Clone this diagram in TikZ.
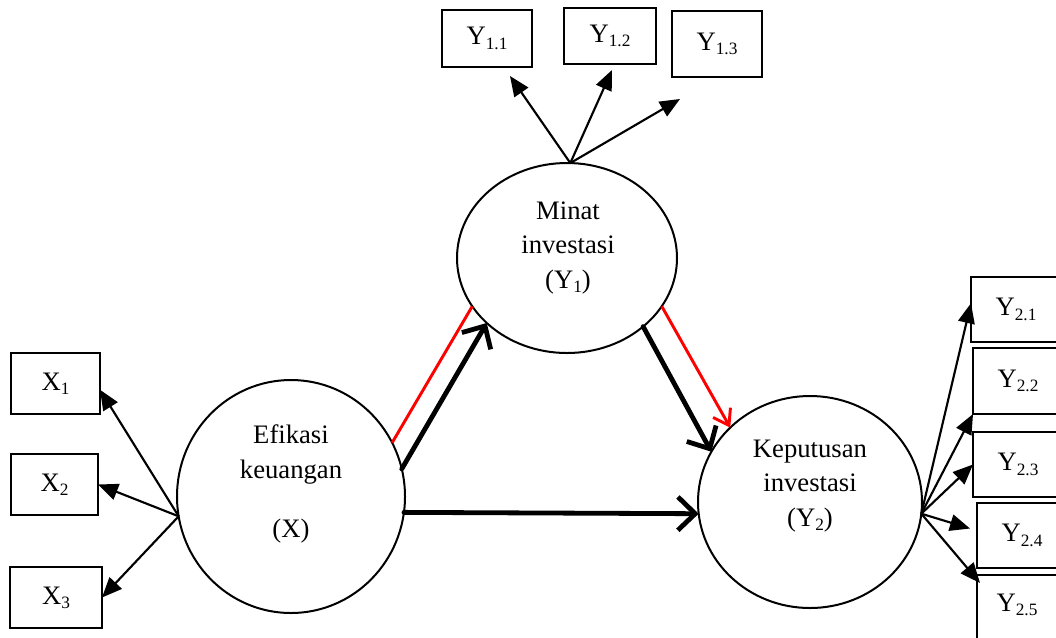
\documentclass[tikz,border=0pt]{standalone}
\usepackage{fontspec}
\setmainfont{Liberation Serif}
\usetikzlibrary{shapes.geometric,arrows.meta}
\newcommand{\lsub}[1]{\raisebox{-0.35ex}{\fontsize{13}{13}\selectfont #1}}
\tikzset{
  latent/.style={draw, ellipse, line width=1.5pt, inner sep=0pt, outer sep=0pt},
  obs/.style={draw, rectangle, line width=1.5pt, inner sep=0pt, outer sep=0pt, font=\fontsize{20}{22}\selectfont},
  txt/.style={align=center, inner sep=0pt, font=\fontsize{20}{26}\selectfont},
  ind/.style={line width=1.6pt, -{Triangle[length=15pt,width=12.5pt]}},
  mainpath/.style={line width=3.6pt, line cap=round, -{Straight Barb[length=13pt,width=25pt]}},
  redpath/.style={draw=red, line width=2.2pt},
}
\begin{document}
\begin{tikzpicture}[x=0.75pt,y=-0.75pt]
\clip (0,0) rectangle (1056,637);
% latent variables
\node[latent, minimum width=171pt, minimum height=174.75pt] (EX) at (291,496.5) {};
\node[latent, minimum width=165pt, minimum height=142.5pt] (EY1) at (567,258) {};
\node[latent, minimum width=168pt, minimum height=159pt] (EY2) at (810,502) {};
\node[txt] (tX) at (291,484) {Efikasi\\keuangan\\[18pt](X)};
\node[txt] (tY1) at (568,248) {Minat\\investasi\\(Y\lsub{1})};
\node[txt] (tY2) at (810,486) {Keputusan\\investasi\\(Y\lsub{2})};
% indicator boxes
\node[obs, minimum width=67.5pt, minimum height=42.75pt] (bY11) at (487,38.5) {Y\lsub{1.1}};
\node[obs, minimum width=69pt, minimum height=42pt] (bY12) at (610,36) {Y\lsub{1.2}};
\node[obs, minimum width=67.5pt, minimum height=49.5pt] (bY13) at (717,44) {Y\lsub{1.3}};
\node[obs, minimum width=66.75pt, minimum height=45.75pt] (bX1) at (55.5,383.5) {X\lsub{1}};
\node[obs, minimum width=65.25pt, minimum height=45.75pt] (bX2) at (54.5,484.5) {X\lsub{2}};
\node[obs, minimum width=69pt, minimum height=45.75pt] (bX3) at (56,597.5) {X\lsub{3}};
\node[obs, minimum width=67.5pt, minimum height=48.75pt] (bY21) at (1016,309.5) {Y\lsub{2.1}};
\node[obs, minimum width=67.5pt, minimum height=49.5pt] (bY22) at (1018,381) {Y\lsub{2.2}};
\node[obs, minimum width=67.5pt, minimum height=48.75pt] (bY23) at (1018,464.5) {Y\lsub{2.3}};
\node[obs, minimum width=67.5pt, minimum height=48.75pt] (bY24) at (1022,535.5) {Y\lsub{2.4}};
\node[obs, minimum width=67.5pt, minimum height=60pt] (bY25) at (1022,615) {};
\node[obs, draw=none] (tY25) at (1017,605) {Y\lsub{2.5}};
% indicator arrows
\draw[ind] (EY1.88) -- ([shift={(23,9)}]bY11.south);
\draw[ind] (EY1.88) -- ([shift={(2,6)}]bY12.south);
\draw[ind] (EY1.88) -- ([shift={(8,22)}]bY13.south west);
\draw[ind] (EX.190) -- (bX1.-8);
\draw[ind] (EX.190) -- (bX2.east);
\draw[ind] (EX.190) -- (bX3.east);
\draw[ind] (EY2.354) -- (bY21.172);
\draw[ind] (EY2.354) -- (bY22.south west);
\draw[ind] (EY2.354) -- (bY23.west);
\draw[ind] (EY2.354) -- ([shift={(-7,-7)}]bY24.west);
\draw[ind] (EY2.354) -- ([shift={(3,8)}]bY25.north west);
% structural paths
\draw[redpath] (EX.28) -- (EY1.207);
\draw[mainpath] (EX.14) -- (EY1.219);
\draw[mainpath] (EY1.318.6) -- (EY2.153);
\draw[redpath, -{Straight Barb[length=11pt,width=15pt]}] (EY1.333) -- (EY2.137);
\draw[mainpath] (EX.352) -- (EY2.186);
\end{tikzpicture}
\end{document}
